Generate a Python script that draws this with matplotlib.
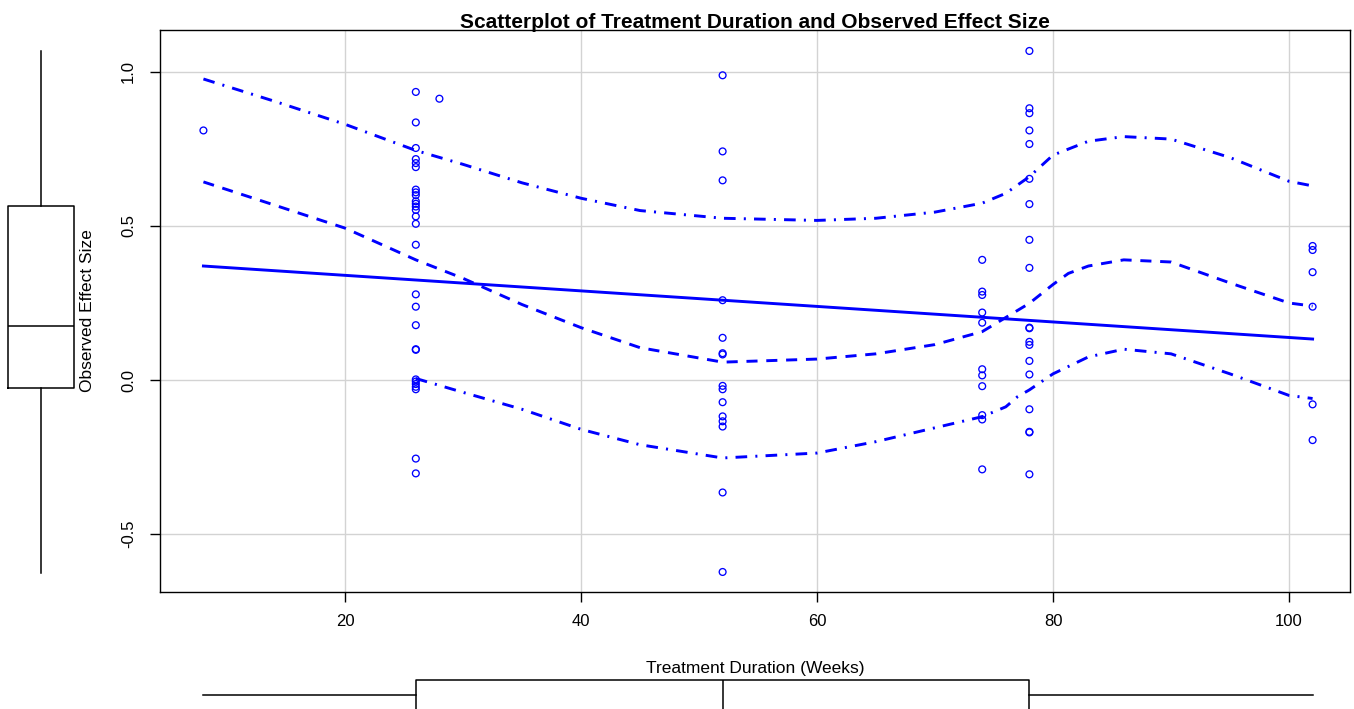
import matplotlib
matplotlib.use("Agg")
import matplotlib.pyplot as plt

plt.rcParams["font.family"] = ["Liberation Sans", "DejaVu Sans"]
plt.rcParams["axes.unicode_minus"] = False

# observed effect sizes, grouped by treatment duration (weeks)
dur_8 = [0.810]
dur_26 = [0.935, 0.836, 0.753, 0.717, 0.704, 0.691, 0.618, 0.609, 0.600,
          0.580, 0.572, 0.563, 0.552, 0.531, 0.507, 0.439, 0.278, 0.238,
          0.178, 0.100, 0.098, 0.002, -0.005, -0.013, -0.022, -0.030,
          -0.255, -0.303]
dur_28 = [0.913]
dur_52 = [0.989, 0.742, 0.648, 0.259, 0.137, 0.087, 0.083, -0.019, -0.030,
          -0.072, -0.118, -0.134, -0.151, -0.365, -0.623]
dur_74 = [0.390, 0.287, 0.276, 0.219, 0.186, 0.035, 0.015, -0.020, -0.114,
          -0.128, -0.290]
dur_78 = [1.068, 0.882, 0.866, 0.810, 0.766, 0.653, 0.571, 0.455, 0.364,
          0.170, 0.168, 0.124, 0.114, 0.062, 0.018, -0.095, -0.168, -0.170,
          -0.306]
dur_102 = [0.435, 0.422, 0.350, 0.238, -0.079, -0.195]

groups = {8: dur_8, 26: dur_26, 28: dur_28, 52: dur_52, 74: dur_74,
          78: dur_78, 102: dur_102}
weeks = [w for w, ys in groups.items() for _ in ys]
effect = [y for ys in groups.values() for y in ys]

# linear fit
fit_x = [8, 102]
fit_y = [0.370, 0.133]

# loess smooth and spread bands
smooth_x = [8, 14, 20, 26, 30, 35, 40, 45, 52, 60, 65, 70, 74, 78, 80,
            81.3, 83, 86, 90, 95, 100, 102]
smooth_y = [0.643, 0.568, 0.493, 0.390, 0.330, 0.245, 0.170, 0.105, 0.058,
            0.068, 0.085, 0.115, 0.157, 0.249, 0.310, 0.346, 0.370, 0.390,
            0.383, 0.315, 0.250, 0.240]
upper_x = [8, 14, 20, 26, 30, 35, 40, 45, 52, 60, 65, 70, 74, 76, 78, 80,
           83, 86, 90, 95, 100, 102]
upper_y = [0.977, 0.905, 0.830, 0.745, 0.700, 0.640, 0.590, 0.550, 0.525,
           0.518, 0.525, 0.545, 0.574, 0.606, 0.660, 0.730, 0.775, 0.790,
           0.782, 0.722, 0.645, 0.630]
lower_x = [26, 30, 35, 40, 45, 52, 60, 65, 70, 74, 76, 77, 78, 80, 83, 86,
           90, 95, 100, 102]
lower_y = [0.005, -0.040, -0.095, -0.160, -0.210, -0.253, -0.237, -0.200,
           -0.155, -0.119, -0.087, -0.054, -0.032, 0.020, 0.075, 0.100,
           0.085, 0.020, -0.050, -0.060]

# marginal boxplot summaries
y_box = dict(whislo=-0.627, q1=-0.026, med=0.175, q3=0.565, whishi=1.068)
x_box = dict(whislo=8, q1=26, med=52, q3=78, whishi=102)

xticks = [20, 40, 60, 80, 100]
yticks = [-0.5, 0.0, 0.5, 1.0]
xlim = (4.32, 105.17)
ylim = (-0.688, 1.136)

W, H = 1354, 709
fig = plt.figure(figsize=(W / 100, H / 100), dpi=100)
ax = fig.add_axes([160 / W, 1 - 592 / H, 1190 / W, 562 / H])

blue = "#0000ff"
ax.grid(True, color="#d3d3d3", lw=1.0)
ax.set_axisbelow(True)
ax.scatter(weeks, effect, s=24, facecolors="none", edgecolors=blue,
           linewidths=0.95, zorder=3)
ax.plot(fit_x, fit_y, color=blue, lw=2.1, zorder=4)
ax.plot(smooth_x, smooth_y, color=blue, lw=2.1, dashes=(3.8, 3.0), zorder=4)
dashdot = (4.0, 2.8, 0.7, 2.8)
ax.plot(upper_x, upper_y, color=blue, lw=2.1, dashes=dashdot, zorder=4)
ax.plot(lower_x, lower_y, color=blue, lw=2.1, dashes=dashdot, zorder=4)

ax.set_xlim(*xlim)
ax.set_ylim(*ylim)
ax.set_xticks(xticks)
ax.set_xticklabels([str(t) for t in xticks])
ax.set_yticks(yticks)
ax.set_yticklabels([f"{t:.1f}" for t in yticks], rotation=90, va="center")
ax.tick_params(axis="both", direction="out", length=7.2, width=1.0,
               labelsize=12, color="black")
ax.tick_params(axis="x", pad=9.0)
ax.tick_params(axis="y", pad=10)
for sp in ax.spines.values():
    sp.set_linewidth(1.0)
    sp.set_color("black")

box_style = dict(
    showfliers=False, showcaps=False, patch_artist=False,
    boxprops=dict(color="black", lw=1.1),
    whiskerprops=dict(color="black", lw=1.1),
    medianprops=dict(color="black", lw=1.1),
)

# boxplot of effect sizes in the left margin
ax_l = fig.add_axes([0, 1 - 592 / H, 84 / W, 562 / H])
ax_l.bxp([y_box], positions=[41], widths=66, vert=True, **box_style)
ax_l.set_xlim(0, 84)
ax_l.set_ylim(*ylim)
ax_l.axis("off")

# boxplot of durations below the x axis
ax_b = fig.add_axes([160 / W, 0, 1190 / W, 39 / H])
ax_b.bxp([x_box], positions=[14], widths=30, vert=False, **box_style)
ax_b.set_xlim(*xlim)
ax_b.set_ylim(0, 39)
ax_b.axis("off")

fig.text(755 / W, 1 - 28 / H,
         "Scatterplot of Treatment Duration and Observed Effect Size",
         ha="center", va="baseline", fontsize=15, fontweight="bold")
fig.text(755 / W, 1 - 669 / H, "Treatment Duration (Weeks)",
         ha="center", va="center", fontsize=12.5)
fig.text(88 / W, 1 - 311 / H, "Observed Effect Size", rotation=90,
         ha="center", va="center", fontsize=12.5)

fig.savefig("out.png", dpi=100)
